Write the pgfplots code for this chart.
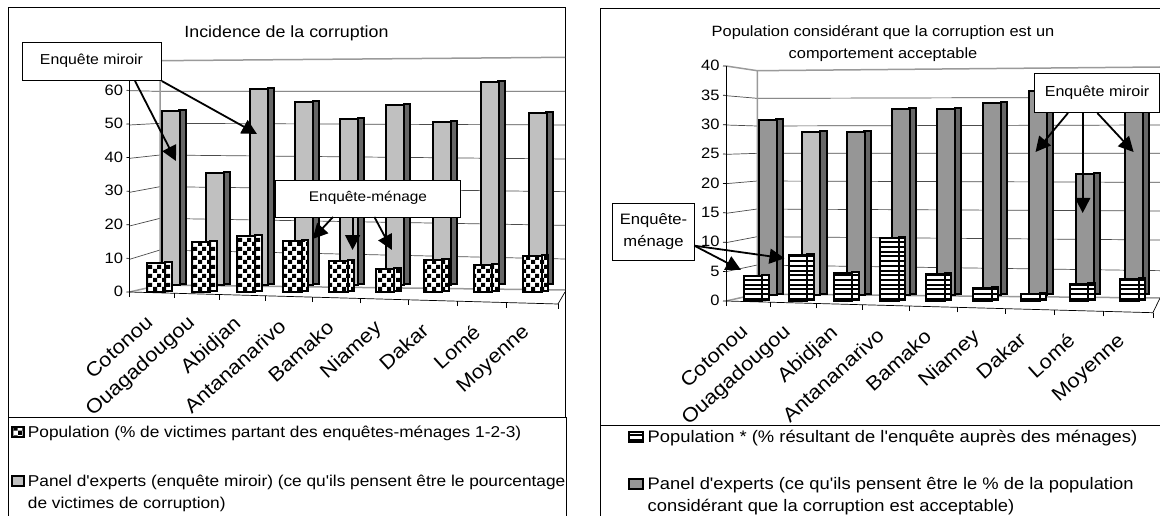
\documentclass[border=0pt]{standalone}
\usepackage{fontspec}
\setmainfont[FakeStretch=1.1,Ligatures=TeXOff]{Liberation Sans}
\usepackage{pgfplots}
\usepackage{pgfplotstable}
\pgfplotsset{compat=1.18}
\usetikzlibrary{patterns,arrows.meta}

\definecolor{barlight}{HTML}{C0C0C0}
\definecolor{barmid}{HTML}{969696}
\definecolor{barside}{HTML}{666666}
\definecolor{wall}{HTML}{9A9A9A}

\pgfdeclarepatternformonly{bigcheck}{\pgfqpoint{0pt}{0pt}}{\pgfqpoint{9pt}{9pt}}{\pgfqpoint{9pt}{9pt}}{
  \pgfpathrectangle{\pgfqpoint{0pt}{0pt}}{\pgfqpoint{4.5pt}{4.5pt}}
  \pgfpathrectangle{\pgfqpoint{4.5pt}{4.5pt}}{\pgfqpoint{4.5pt}{4.5pt}}
  \pgfusepath{fill}}
\pgfdeclarepatternformonly{bigstripes}{\pgfqpoint{-1pt}{0pt}}{\pgfqpoint{5.7pt}{4.7pt}}{\pgfqpoint{4.7pt}{4.7pt}}{
  \pgfpathrectangle{\pgfqpoint{-1pt}{0pt}}{\pgfqpoint{6.7pt}{2pt}}
  \pgfusepath{fill}}

% columns: i = city index, pos = position along the axis in px, v = value
\pgfplotstableread{
i pos v
0 10.6 54
1 54.9 35
2 99.0 61
3 144.1 57
4 189.2 52
5 235.1 56
6 282.1 51
7 329.5 63
8 377.6 54
}\leftrear
\pgfplotstableread{
i pos v
0 26.6 9
1 71.4 15.3
2 116.5 17.3
3 162.8 16.2
4 209.0 10.6
5 255.3 8.7
6 303.7 11.7
7 353.3 10.5
8 402.9 13.4
}\leftfront
\pgfplotstableread{
i pos v
0 10.3 31
2 98.2 29
3 143.2 33
4 188.7 33
5 234.9 34
6 280.7 36
7 327.8 22
8 376.3 33
}\rightrear
\pgfplotstableread{
i pos v
1 54.0 29
}\rightrearlight
\pgfplotstableread{
i pos v
0 27.1 4.3
1 72.2 8.2
2 117.1 5.3
3 163.5 11.2
4 209.5 5.4
5 256.7 3.3
6 304.7 2.5
7 353.1 4.4
8 403.5 5.4
}\rightfront

\pgfplotsset{
  barbase/.style={ybar, draw=black, line width=2pt},
  rearface/.style={barbase, bar width=18pt, bar shift=0pt, fill=#1},
  rearside/.style={barbase, bar width=6.5pt, bar shift=12pt, fill=barside, yshift=1pt},
  frontface/.style={barbase, bar width=18.5pt, bar shift=0pt, fill=white, postaction={pattern=#1}},
  frontside/.style={barbase, bar width=6.5pt, bar shift=12.5pt, fill=white, yshift=1pt, postaction={pattern=#1}},
  rearaxis/.style={hide axis, clip=false, anchor=origin, xmin=0, xmax=410, ymin=0, ymax=70},
  frontaxis/.style={
    clip=false, anchor=origin, axis x line*=bottom, axis y line*=left,
    axis line style={-, black, line width=0.7pt},
    tick align=outside, tick style={black, line width=0.7pt},
    major tick length=3pt, minor tick length=5pt,
    major x tick style={draw=none},
    ticklabel style={font=\fontsize{15}{17}\selectfont},
    /pgf/number format/assume math mode=true,
    xticklabels={Cotonou,Ouagadougou,Abidjan,Antananarivo,Bamako,Niamey,Dakar,Lomé,Moyenne},
    xticklabel style={font=\fontsize{19.8}{22}\selectfont, xshift=-8pt, yshift=-6pt, rotate=42, anchor=east, yshift=-21pt},
  },
}

\begin{document}
\begin{tikzpicture}[x=1pt,y=-1pt]
\useasboundingbox (0,0) rectangle (1160,516);

% left chart: frame and walls
\draw[black, line width=0.8pt] (8,516) -- (8,7.5) -- (565,7.5) -- (565,417);
\draw[black, line width=0.8pt] (8,417) -- (566,417) -- (566,516);
\node[font=\fontsize{16.2}{18}\selectfont] at (286.5,33) {Incidence de la corruption};
\foreach \a/\b/\c in {272/274/274,375/370/375,475/465/477,577/560/575,678/655/676,778/750/777}
  \draw[black!70, line width=0.7pt] (129.5,\a/3) -- (160,\b/3) -- (565,\c/3);
\draw[wall, line width=1.5pt] (129.5,57) -- (160,60.7) -- (565,57.3);
\draw[wall, line width=1.5pt] (160,60.7) -- (160,285) -- (565,290);
\draw[wall, line width=1.5pt] (129.5,292) -- (160,285);
\draw[black, line width=0.7pt] (558,304) -- (565,292);

% left chart: panel of experts, at the back
\begin{axis}[rearaxis, at={(160pt,-284.6pt)}, x={(1pt,-0.0338pt)}, y={(0pt,3.217pt)}]
\addplot[rearside] table[x=pos, y expr=\thisrow{v}*(1+0.0077*\thisrow{i})] {\leftrear};
\addplot[rearface=barlight] table[x=pos, y expr=\thisrow{v}*(1+0.0077*\thisrow{i})] {\leftrear};
\end{axis}

% left chart: population, in front
\begin{axis}[frontaxis, at={(129.5pt,-292pt)}, x={(1pt,-0.028pt)}, y={(0pt,3.36pt)},
    xmin=0, xmax=428.5, ymin=0, ymax=70, ytick={0,10,...,60},
    xtick={16.5,59.2,105.5,149.5,197.5,246,292.3,344,394},
    minor xtick={0,44.4,90.3,136.1,183.1,231.2,279.3,327.4,377.3,428.4}]
\addplot[frontside=bigcheck] table[x=pos, y expr=\thisrow{v}*(1+0.006*\thisrow{i})] {\leftfront};
\addplot[frontface=bigcheck] table[x=pos, y expr=\thisrow{v}*(1+0.006*\thisrow{i})] {\leftfront};
\end{axis}

% left chart: legend
\draw[black, fill=white, line width=1.5pt, postaction={pattern=bigcheck}] (12,427) rectangle (24,437);
\node[anchor=west, inner sep=0pt, font=\fontsize{15.7}{17}\selectfont] at (27.7,433) {Population (\% de victimes partant des enquêtes-ménages 1-2-3)};
\draw[black, fill=barlight, line width=1.5pt] (12,476) rectangle (24,486);
\node[anchor=west, inner sep=0pt, font=\fontsize{15.7}{17}\selectfont] at (27.7,482) {Panel d'experts (enquête miroir) (ce qu'ils pensent être le pourcentage};
\node[anchor=west, inner sep=0pt, font=\fontsize{15.7}{17}\selectfont] at (27.7,504) {de victimes de corruption)};

% left chart: callouts
\draw[black, fill=white, line width=1pt] (22,43) rectangle (161,81);
\node[font=\fontsize{14.4}{16}\selectfont] at (91.5,61) {Enquête miroir};
\draw[black, fill=white, line width=1pt] (275.6,181) rectangle (460,217.3);
\node[font=\fontsize{14}{16}\selectfont] at (368,198) {Enquête-ménage};
\begin{scope}[black, line width=1.8pt, -{Triangle[length=15pt,width=15pt]}]
\draw (135,81) -- (176,161);
\draw (161.7,81) -- (257,134);
\draw (333,217) -- (312.6,239);
\draw (352.6,217) -- (352.6,250);
\draw (374.4,217) -- (392,250);
\end{scope}

% right chart: frame and walls
\draw[black, line width=0.8pt] (600,516) -- (600,8.7) -- (1160,8.7);
\draw[black, line width=0.8pt] (600,425) -- (1160,425);
\node[font=\fontsize{14.9}{16}\selectfont] at (883,33) {Population considérant que la corruption est un};
\node[font=\fontsize{14.9}{16}\selectfont] at (883,55) {comportement acceptable};
\foreach \a/\b/\c in {287/295/292,375/378/375,463/460/460,551/543/547,640/627/633,728/710/720,815/795/812}
  \draw[black!70, line width=0.7pt] (726,\a/3) -- (757.3,\b/3) -- (1160,\c/3);
\draw[wall, line width=1.5pt] (726,66) -- (757.3,70.7) -- (1160,67);
\draw[wall, line width=1.5pt] (757.3,70.7) -- (757.3,294) -- (1160,298);
\draw[wall, line width=1.5pt] (726,301) -- (757.3,294);
\draw[black, line width=0.7pt] (1152.9,312.7) -- (1160,298);

% right chart: panel of experts, at the back
\begin{axis}[rearaxis, at={(757.3pt,-294.7pt)}, x={(1pt,-0.0285pt)}, y={(0pt,5.63pt)}, ymax=40]
\addplot[rearside] table[x=pos, y expr=\thisrow{v}*(1+0.0077*\thisrow{i})] {\rightrear};
\addplot[rearside] table[x=pos, y expr=\thisrow{v}*(1+0.0077*\thisrow{i})] {\rightrearlight};
\addplot[rearface=barmid] table[x=pos, y expr=\thisrow{v}*(1+0.0077*\thisrow{i})] {\rightrear};
\addplot[rearface=barlight] table[x=pos, y expr=\thisrow{v}*(1+0.0077*\thisrow{i})] {\rightrearlight};
\end{axis}

% right chart: population, in front
\begin{axis}[frontaxis, at={(726pt,-301pt)}, x={(1pt,-0.0274pt)}, y={(0pt,5.875pt)},
    xmin=0, xmax=426.9, ymin=0, ymax=40, ytick={0,5,...,40},
    xtick={15,58.5,105.8,151.3,198.5,247.6,293,342,393},
    minor xtick={0,44.7,90.2,136.7,183.6,230.9,279.3,328.4,377.8,426.9}]
\addplot[frontside=bigstripes] table[x=pos, y expr=\thisrow{v}*(1+0.006*\thisrow{i})] {\rightfront};
\addplot[frontface=bigstripes] table[x=pos, y expr=\thisrow{v}*(1+0.006*\thisrow{i})] {\rightfront};
\end{axis}

% right chart: legend
\draw[black, fill=white, line width=1.5pt, postaction={pattern=bigstripes}] (629,432) rectangle (643,442);
\node[anchor=west, inner sep=0pt, font=\fontsize{16.7}{18}\selectfont] at (647.5,438) {Population * (\% résultant de l'enquête auprès des ménages)};
\draw[black, fill=barmid, line width=1.5pt] (629,479) rectangle (643,489);
\node[anchor=west, inner sep=0pt, font=\fontsize{16.7}{18}\selectfont] at (647.5,485) {Panel d'experts (ce qu'ils pensent être le \% de la population};
\node[anchor=west, inner sep=0pt, font=\fontsize{16.7}{18}\selectfont] at (647.5,507) {considérant que la corruption est acceptable)};

% right chart: callouts
\draw[black, fill=white, line width=1pt] (1034.4,74) rectangle (1159.5,112.7);
\node[font=\fontsize{14.6}{16}\selectfont] at (1097,93) {Enquête miroir};
\draw[black, fill=white, line width=1pt] (612.5,204) rectangle (694.4,260);
\node[font=\fontsize{15.1}{17}\selectfont] at (653.5,221) {Enquête-};
\node[font=\fontsize{15.1}{17}\selectfont] at (653.5,243) {ménage};
\begin{scope}[black, line width=1.8pt, -{Triangle[length=15pt,width=15pt]}]
\draw (1068,113) -- (1035.5,152);
\draw (1082.7,113) -- (1082.7,213);
\draw (1097.3,113) -- (1133.6,152);
\draw (694.4,245.7) -- (741,270);
\draw (694.4,245.7) -- (784.5,258.3);
\end{scope}
\end{tikzpicture}
\end{document}
